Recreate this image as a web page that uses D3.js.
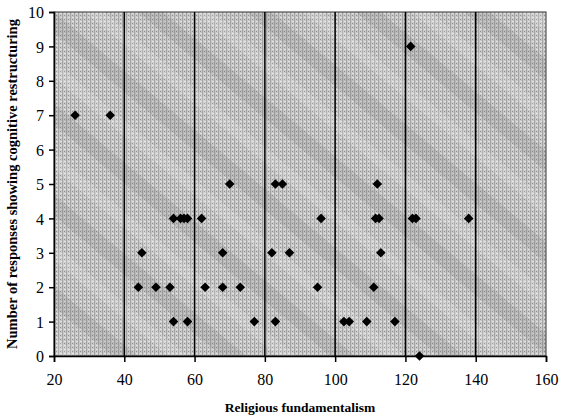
<!DOCTYPE html>
<html>
<head>
<meta charset="utf-8">
<script src="https://cdn.jsdelivr.net/npm/d3@7"></script>
<style>
  body { margin: 0; background: #fff; }
  svg { display: block; }
  .tick text { font-family: "Liberation Serif", serif; font-size: 16px; fill: #000; }
  .axis-title { font-family: "Liberation Serif", serif; font-weight: bold; }
</style>
</head>
<body>
<svg id="chart" width="562" height="418"></svg>
<script>
// religious fundamentalism score for each respondent
var fundamentalism = [26, 36,
    54, 56, 57, 58, 62, 96, 111.5, 112.5, 122, 123, 138,
    45, 68, 82, 87, 113,
    44, 49, 53, 63, 68, 73, 95, 111,
    54, 58, 77, 83, 102.5, 104, 109, 117,
    124,
    70, 83, 85, 112,
    121.5];
// number of responses showing cognitive restructuring
var responses = [7, 7,
    4, 4, 4, 4, 4, 4, 4, 4, 4, 4, 4,
    3, 3, 3, 3, 3,
    2, 2, 2, 2, 2, 2, 2, 2,
    1, 1, 1, 1, 1, 1, 1, 1,
    0,
    5, 5, 5, 5,
    9];
var xTicks = [20, 40, 60, 80, 100, 120, 140, 160];
var yTicks = [0, 1, 2, 3, 4, 5, 6, 7, 8, 9, 10];

var svg = d3.select('#chart');
var margin = {left: 54, top: 12, right: 16, bottom: 62};
var width = 562 - margin.left - margin.right,
    height = 418 - margin.top - margin.bottom;

var x = d3.scaleLinear().domain([20, 160]).range([0, width]);
var y = d3.scaleLinear().domain([0, 10]).range([height, 0]);

// grainy gray fill, like the printed screen
var defs = svg.append('defs');
var pat = defs.append('pattern')
    .attr('id', 'grain')
    .attr('width', 4).attr('height', 4)
    .attr('patternUnits', 'userSpaceOnUse');
pat.append('rect').attr('width', 4).attr('height', 4).attr('fill', '#c8c8c8');
pat.append('rect').attr('x', 0).attr('y', 0).attr('width', 1).attr('height', 4).attr('fill', '#a4a4a4');
pat.append('rect').attr('x', 2).attr('y', 1).attr('width', 2).attr('height', 1).attr('fill', '#e0e0e0');
pat.append('rect').attr('x', 2).attr('y', 3).attr('width', 1).attr('height', 1).attr('fill', '#909090');

var streak = defs.append('pattern')
    .attr('id', 'streaks')
    .attr('width', 70).attr('height', 70)
    .attr('patternUnits', 'userSpaceOnUse')
    .attr('patternTransform', 'rotate(40)');
streak.append('rect').attr('width', 70).attr('height', 16).attr('fill', '#707070').attr('opacity', 0.18);
streak.append('rect').attr('y', 38).attr('width', 70).attr('height', 12).attr('fill', '#ffffff').attr('opacity', 0.15);

var g = svg.append('g')
    .attr('transform', 'translate(' + margin.left + ',' + margin.top + ')');

g.append('rect')
    .attr('width', width).attr('height', height)
    .attr('fill', 'url(#grain)');
g.append('rect')
    .attr('width', width).attr('height', height)
    .attr('fill', 'url(#streaks)');
g.append('rect')
    .attr('width', width).attr('height', height)
    .attr('fill', 'none')
    .attr('stroke', '#333').attr('stroke-width', 1);

// vertical gridlines
g.append('g')
    .selectAll('line')
    .data(xTicks.slice(1, -1))
    .join('line')
    .attr('x1', function (d) { return x(d); })
    .attr('x2', function (d) { return x(d); })
    .attr('y1', 0)
    .attr('y2', height)
    .attr('stroke', '#000')
    .attr('stroke-width', 1.5);

var xAxis = g.append('g')
    .attr('transform', 'translate(0,' + height + ')')
    .call(d3.axisBottom(x).tickValues(xTicks).tickSize(6).tickPadding(12));
var yAxis = g.append('g')
    .call(d3.axisLeft(y).tickValues(yTicks).tickSize(5).tickPadding(5));
[xAxis, yAxis].forEach(function (a) {
    a.select('.domain').attr('stroke', '#000').attr('stroke-width', 1.5);
    a.selectAll('.tick line').attr('stroke', '#000').attr('stroke-width', 1.5);
});
yAxis.selectAll('.tick text').attr('dy', '0.35em');

// data points
var diamond = d3.symbol().type(d3.symbolSquare).size(46);
g.append('g')
    .selectAll('path')
    .data(d3.range(fundamentalism.length))
    .join('path')
    .attr('d', diamond)
    .attr('transform', function (i) {
        return 'translate(' + x(fundamentalism[i]) + ',' + y(responses[i]) + ') rotate(45)';
    })
    .attr('fill', '#000');

svg.append('text')
    .attr('class', 'axis-title')
    .attr('x', margin.left + width / 2)
    .attr('y', 412)
    .attr('text-anchor', 'middle')
    .attr('font-size', '13.5px')
    .text('Religious fundamentalism');

svg.append('text')
    .attr('class', 'axis-title')
    .attr('transform', 'translate(17,' + (margin.top + height / 2) + ') rotate(-90)')
    .attr('text-anchor', 'middle')
    .attr('font-size', '14.5px')
    .text('Number of responses showing cognitive restructuring');
</script>
</body>
</html>
